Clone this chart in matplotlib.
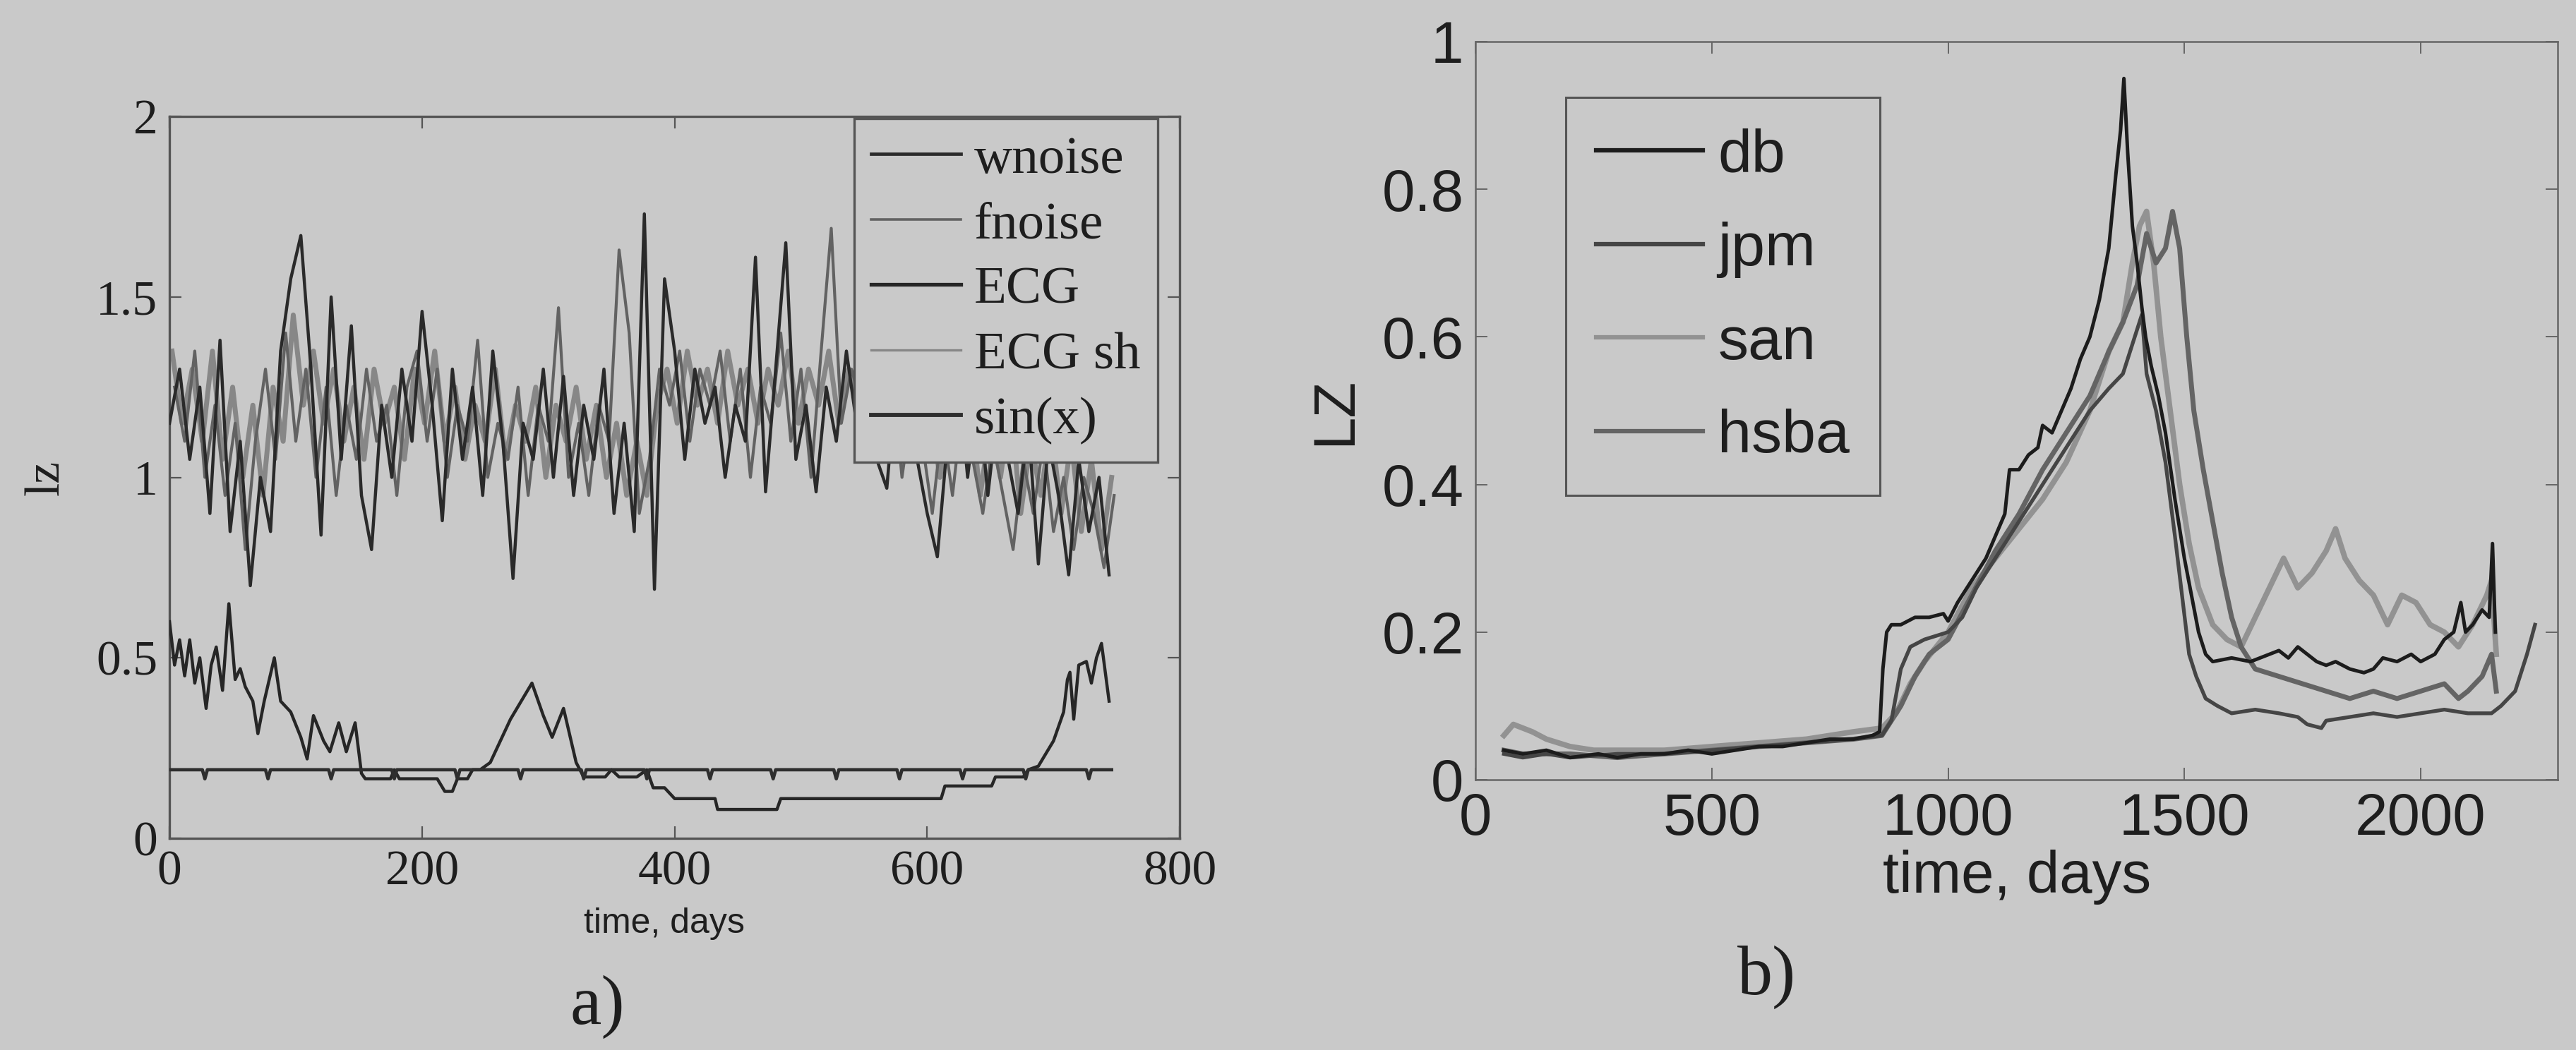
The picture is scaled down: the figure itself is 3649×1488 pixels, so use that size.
import numpy as np
import matplotlib
matplotlib.use("Agg")
import matplotlib.pyplot as plt
from matplotlib import font_manager

# ---------------- data: panel a) ----------------
legend_a = ["wnoise", "fnoise", "ECG", "ECG sh", "sin(x)"]

wnoise = [1.15, 1.30, 1.05, 1.25, 0.90, 1.38, 0.85, 1.10, 0.70, 1.00,
          0.85, 1.35, 1.55, 1.67, 1.30, 0.84, 1.50, 1.05, 1.42, 0.95,
          0.80, 1.20, 1.00, 1.30, 1.10, 1.46, 1.20, 0.88, 1.30, 1.05,
          1.25, 0.95, 1.35, 1.10, 0.72, 1.15, 1.05, 1.30, 1.00, 1.28,
          0.95, 1.20, 1.05, 1.30, 0.90, 1.15, 0.85, 1.73, 0.69, 1.55,
          1.35, 1.05, 1.30, 1.15, 1.25, 1.00, 1.20, 1.10, 1.61, 0.96,
          1.30, 1.65, 1.05, 1.20, 0.96, 1.25, 1.10, 1.35, 1.15, 1.40,
          1.05, 0.97, 1.30, 1.15, 1.05, 0.90, 0.78, 1.10, 1.30, 1.00,
          1.25, 0.95, 1.20, 1.05, 0.90, 1.15, 0.76, 1.10, 0.95, 0.73,
          1.05, 0.85, 1.00, 0.73]
wnoise_span = (0, 744)

fnoise = [1.25, 1.10, 1.35, 1.00, 1.20, 0.95, 1.15, 0.80, 1.10, 1.30,
          1.05, 1.40, 1.10, 1.30, 1.00, 1.25, 0.95, 1.20, 1.05, 1.30,
          1.10, 1.20, 0.95, 1.25, 1.35, 1.10, 1.30, 1.00, 1.20, 1.10,
          1.38, 1.00, 1.15, 1.05, 1.25, 0.95, 1.20, 1.10, 1.47, 1.00,
          1.15, 0.95, 1.20, 1.10, 1.63, 1.40, 0.90, 1.05, 1.30, 1.20,
          1.35, 1.10, 1.30, 1.20, 1.35, 1.10, 1.30, 1.00, 1.25, 1.15,
          1.40, 1.10, 1.30, 1.00, 1.35, 1.69, 1.15, 1.30, 1.20, 1.45,
          1.10, 1.30, 1.00, 1.20, 1.10, 0.90, 1.15, 0.95, 1.20, 1.05,
          0.90, 1.10, 0.95, 0.80, 1.05, 0.90, 1.10, 0.85, 1.00, 0.80,
          1.00, 0.90, 0.75, 0.95]
fnoise_span = (4, 748)

ecg_sh = [1.35, 1.15, 1.30, 1.10, 1.35, 1.05, 1.25, 1.00, 1.20, 0.95,
          1.25, 1.10, 1.45, 1.20, 1.35, 1.15, 1.30, 1.10, 1.25, 1.05,
          1.30, 1.15, 1.25, 1.05, 1.30, 1.15, 1.35, 1.10, 1.25, 1.05,
          1.20, 1.10, 1.30, 1.05, 1.20, 1.10, 1.25, 1.00, 1.20, 1.10,
          1.25, 1.05, 1.20, 1.00, 1.15, 0.95, 1.10, 0.95, 1.20, 1.30,
          1.15, 1.35, 1.20, 1.30, 1.15, 1.35, 1.20, 1.30, 1.15, 1.30,
          1.20, 1.35, 1.15, 1.30, 1.20, 1.35, 1.15, 1.30, 1.20, 1.35,
          1.15, 1.30, 1.10, 1.25, 1.05, 1.20, 1.00, 1.15, 1.05, 1.20,
          0.95, 1.15, 1.00, 1.20, 0.90, 1.10, 0.95, 1.15, 0.90, 1.10,
          0.85, 1.05, 0.80, 1.00]
ecg_sh_span = (2, 746)

ecg_days = [0, 4, 8, 12, 16, 20, 24, 29, 33, 37, 42, 47, 52, 56, 60, 66, 70, 75,
            83, 88, 96, 104, 109, 114, 122, 127, 134, 140, 147, 152, 155, 175,
            178, 182, 212, 218, 224, 228, 236, 240, 246, 254, 270, 287, 296,
            303, 312, 322, 328, 345, 350, 356, 370, 378, 383, 392, 400, 432,
            434, 481, 484, 611, 614, 651, 654, 676, 680, 688, 700, 708, 711,
            713, 716, 720, 726, 730, 734, 738, 744]
ecg_vals = [0.60, 0.48, 0.55, 0.45, 0.55, 0.43, 0.50, 0.36, 0.48, 0.53, 0.41,
            0.65, 0.44, 0.47, 0.42, 0.38, 0.29, 0.38, 0.50, 0.38, 0.35, 0.28,
            0.22, 0.34, 0.27, 0.24, 0.32, 0.24, 0.32, 0.18, 0.165, 0.165,
            0.19, 0.165, 0.165, 0.13, 0.13, 0.165, 0.165, 0.19, 0.19, 0.21,
            0.33, 0.43, 0.34, 0.28, 0.36, 0.21, 0.17, 0.17, 0.19, 0.17, 0.17,
            0.19, 0.14, 0.14, 0.11, 0.11, 0.08, 0.08, 0.11, 0.11, 0.145,
            0.145, 0.17, 0.17, 0.19, 0.20, 0.27, 0.35, 0.44, 0.46, 0.33, 0.48,
            0.49, 0.43, 0.50, 0.54, 0.38]

sin_days = [0, 26, 28, 30, 76, 78, 80, 126, 128, 130, 176, 178, 180, 226, 228,
            230, 276, 278, 280, 326, 328, 330, 376, 378, 380, 426, 428, 430,
            476, 478, 480, 526, 528, 530, 576, 578, 580, 626, 628, 630, 676,
            678, 680, 726, 728, 730, 746]
sin_vals = [0.19, 0.19, 0.165, 0.19, 0.19, 0.165, 0.19, 0.19, 0.165, 0.19,
            0.19, 0.165, 0.19, 0.19, 0.165, 0.19, 0.19, 0.165, 0.19, 0.19,
            0.165, 0.19, 0.19, 0.165, 0.19, 0.19, 0.165, 0.19, 0.19, 0.165,
            0.19, 0.19, 0.165, 0.19, 0.19, 0.165, 0.19, 0.19, 0.165, 0.19,
            0.19, 0.165, 0.19, 0.19, 0.165, 0.19, 0.19]

xticks_a = [0, 200, 400, 600, 800]
yticks_a = [0, 0.5, 1, 1.5, 2]
yticklabels_a = ["0", "0.5", "1", "1.5", "2"]

# ---------------- data: panel b) ----------------
legend_b = ["db", "jpm", "san", "hsba"]

db_days = [60, 100, 150, 200, 260, 300, 350, 400, 450, 500, 550, 600, 650, 700,
           750, 800, 840, 855, 862, 870, 880, 900, 930, 960, 990, 1000, 1020,
           1050, 1080, 1100, 1120, 1130, 1150, 1170, 1190, 1200, 1220, 1240,
           1260, 1280, 1300, 1320, 1340, 1355, 1365, 1372, 1380, 1390, 1400,
           1410, 1418, 1430, 1445, 1460, 1480, 1500, 1515, 1530, 1545, 1560,
           1600, 1640, 1680, 1700, 1720, 1740, 1760, 1780, 1800, 1820, 1850,
           1880, 1900, 1920, 1950, 1980, 2000, 2030, 2050, 2070, 2085, 2095,
           2110, 2130, 2145, 2152, 2158]
db_vals = [0.04, 0.035, 0.04, 0.03, 0.035, 0.03, 0.035, 0.035, 0.04, 0.035,
           0.04, 0.045, 0.045, 0.05, 0.055, 0.055, 0.06, 0.065, 0.15, 0.20,
           0.21, 0.21, 0.22, 0.22, 0.225, 0.215, 0.24, 0.27, 0.30, 0.33, 0.36,
           0.42, 0.42, 0.44, 0.45, 0.48, 0.47, 0.50, 0.53, 0.57, 0.60, 0.65,
           0.72, 0.82, 0.88, 0.95, 0.85, 0.75, 0.70, 0.64, 0.60, 0.56, 0.52,
           0.47, 0.38, 0.30, 0.25, 0.20, 0.17, 0.16, 0.165, 0.16, 0.17, 0.175,
           0.165, 0.18, 0.17, 0.16, 0.155, 0.16, 0.15, 0.145, 0.15, 0.165,
           0.16, 0.17, 0.16, 0.17, 0.19, 0.20, 0.24, 0.20, 0.21, 0.23, 0.22,
           0.32, 0.20]

jpm_days = [60, 100, 150, 200, 300, 400, 500, 600, 700, 800, 860, 880, 900,
            920, 950, 1000, 1030, 1060, 1100, 1150, 1200, 1250, 1300, 1340,
            1370, 1395, 1410, 1420, 1440, 1460, 1480, 1495, 1510, 1525, 1545,
            1570, 1600, 1650, 1700, 1740, 1760, 1790, 1800, 1850, 1900, 1950,
            2000, 2050, 2100, 2150, 2170, 2200, 2225, 2242]
jpm_vals = [0.035, 0.03, 0.035, 0.03, 0.035, 0.035, 0.04, 0.045, 0.05, 0.055,
            0.06, 0.08, 0.15, 0.18, 0.19, 0.20, 0.22, 0.26, 0.30, 0.35, 0.40,
            0.45, 0.50, 0.53, 0.55, 0.60, 0.63, 0.55, 0.50, 0.43, 0.33, 0.25,
            0.17, 0.14, 0.11, 0.10, 0.09, 0.095, 0.09, 0.085, 0.075, 0.07,
            0.08, 0.085, 0.09, 0.085, 0.09, 0.095, 0.09, 0.09, 0.10, 0.12,
            0.17, 0.21]

san_days = [60, 80, 100, 120, 150, 200, 250, 300, 400, 500, 600, 700, 800, 860,
            890, 920, 950, 1000, 1050, 1100, 1150, 1200, 1250, 1300, 1340,
            1370, 1390, 1405, 1420, 1435, 1450, 1470, 1490, 1510, 1530, 1560,
            1590, 1620, 1650, 1680, 1710, 1740, 1770, 1800, 1820, 1840, 1870,
            1900, 1930, 1960, 1990, 2020, 2050, 2080, 2110, 2140, 2150, 2160]
san_vals = [0.06, 0.075, 0.07, 0.065, 0.055, 0.045, 0.04, 0.04, 0.04, 0.045,
            0.05, 0.055, 0.065, 0.07, 0.09, 0.13, 0.16, 0.20, 0.26, 0.30, 0.34,
            0.38, 0.43, 0.50, 0.58, 0.62, 0.70, 0.75, 0.77, 0.70, 0.60, 0.50,
            0.40, 0.32, 0.26, 0.21, 0.19, 0.18, 0.22, 0.26, 0.30, 0.26, 0.28,
            0.31, 0.34, 0.30, 0.27, 0.25, 0.21, 0.25, 0.24, 0.21, 0.20, 0.18,
            0.21, 0.25, 0.27, 0.17]

hsba_days = [60, 100, 200, 300, 400, 500, 600, 700, 800, 860, 900, 930, 960,
             1000, 1050, 1100, 1150, 1200, 1250, 1300, 1340, 1370, 1400, 1420,
             1440, 1460, 1475, 1490, 1505, 1520, 1540, 1560, 1580, 1600, 1620,
             1650, 1700, 1750, 1800, 1850, 1900, 1950, 2000, 2050, 2080, 2100,
             2130, 2150, 2160]
hsba_vals = [0.04, 0.035, 0.035, 0.03, 0.035, 0.04, 0.045, 0.05, 0.055, 0.06,
             0.10, 0.14, 0.17, 0.19, 0.25, 0.31, 0.36, 0.42, 0.47, 0.52, 0.58,
             0.62, 0.67, 0.74, 0.70, 0.72, 0.77, 0.72, 0.60, 0.50, 0.42, 0.35,
             0.28, 0.22, 0.18, 0.15, 0.14, 0.13, 0.12, 0.11, 0.12, 0.11, 0.12,
             0.13, 0.11, 0.12, 0.14, 0.17, 0.12]

xticks_b = [0, 500, 1000, 1500, 2000]
yticks_b = [0, 0.2, 0.4, 0.6, 0.8, 1.0]
yticklabels_b = ["0", "0.2", "0.4", "0.6", "0.8", "1"]

# ---------------- style ----------------
BG = "#c9c9c9"
INK = "#1e1e1e"
FRAME = "#555555"

names = {f.name for f in font_manager.fontManager.ttflist}
NARROW = "Liberation Sans Narrow" if "Liberation Sans Narrow" in names else "Liberation Sans"
narrow_size = 42 if NARROW == "Liberation Sans Narrow" else 36
SERIF = ["Liberation Serif", "DejaVu Serif"]
SANS = ["Liberation Sans", "DejaVu Sans"]

fig = plt.figure(figsize=(36.49, 14.88), dpi=100, facecolor=BG)

# ---------------- panel a) ----------------
axa = fig.add_axes([0.0658, 0.2016, 0.3922, 0.6875])
axa.set_facecolor("none")


def grid_x(vals, span):
    return np.linspace(span[0], span[1], len(vals))


la = []
la.append(axa.plot(grid_x(wnoise, wnoise_span), wnoise, color="#2a2a2a", lw=3.2, zorder=4)[0])
la.append(axa.plot(grid_x(fnoise, fnoise_span), fnoise, color="#626262", lw=3.0, zorder=3)[0])
la.append(axa.plot(ecg_days, ecg_vals, color="#262626", lw=3.2, zorder=5)[0])
la.append(axa.plot(grid_x(ecg_sh, ecg_sh_span), ecg_sh, color="#878787", lw=5.0, zorder=2)[0])
la.append(axa.plot(sin_days, sin_vals, color="#2e2e2e", lw=3.4, zorder=5)[0])

axa.set_xlim(0, 800)
axa.set_ylim(0, 2)
axa.set_xticks(xticks_a)
axa.set_xticklabels([str(v) for v in xticks_a])
axa.set_yticks(yticks_a)
axa.set_yticklabels(yticklabels_a)
for lab in axa.get_xticklabels() + axa.get_yticklabels():
    lab.set_fontfamily(SERIF)
    lab.set_fontsize(50)
    lab.set_color(INK)
axa.tick_params(direction="in", top=True, right=True, length=12, width=1.6,
                color=FRAME, pad=12)
for s in axa.spines.values():
    s.set_color(FRAME)
    s.set_linewidth(2.4)

axa.set_xlabel("time, days", family=[NARROW, "DejaVu Sans"], fontsize=narrow_size, color=INK)
axa.xaxis.set_label_coords(0.49, -0.118)
axa.xaxis.label.set_verticalalignment("center")
axa.set_ylabel("lz", family=SERIF, fontsize=50, color=INK)
axa.yaxis.set_label_coords(-0.122, 0.5)
axa.yaxis.label.set_verticalalignment("center")

lega = axa.legend(la, legend_a, loc="upper right", bbox_to_anchor=(0.978, 0.997),
                  borderaxespad=0, prop={"family": SERIF, "size": 54},
                  handlelength=1.7, handletextpad=0.25, labelspacing=0.32,
                  borderpad=0.32, fancybox=False, framealpha=1, facecolor=BG,
                  edgecolor=FRAME)
lega.get_frame().set_linewidth(2.4)
for line, w in zip(lega.get_lines(), [3.4, 2.6, 3.8, 2.4, 4.2]):
    line.set_linewidth(w)
for t in lega.get_texts():
    t.set_color(INK)

# ---------------- panel b) ----------------
axb = fig.add_axes([0.5728, 0.2574, 0.4201, 0.7030])
axb.set_facecolor("none")

lb = []
lb.append(axb.plot(db_days, db_vals, color="#1c1c1c", lw=3.6, zorder=5)[0])
lb.append(axb.plot(jpm_days, jpm_vals, color="#454545", lw=3.8, zorder=4)[0])
lb.append(axb.plot(san_days, san_vals, color="#929292", lw=5.6, zorder=2)[0])
lb.append(axb.plot(hsba_days, hsba_vals, color="#646464", lw=5.0, zorder=3)[0])

axb.set_xlim(0, 2290)
axb.set_ylim(0, 1)
axb.set_xticks(xticks_b)
axb.set_xticklabels([str(v) for v in xticks_b])
axb.set_yticks(yticks_b)
axb.set_yticklabels(yticklabels_b)
for lab in axb.get_xticklabels() + axb.get_yticklabels():
    lab.set_fontfamily(SANS)
    lab.set_fontsize(60)
    lab.set_color(INK)
axb.tick_params(direction="in", top=True, right=True, length=12, width=1.4,
                color="#666666", pad=12)
for s in axb.spines.values():
    s.set_color("#666666")
    s.set_linewidth(1.8)

axb.set_xlabel("time, days", family=SANS, fontsize=60, color=INK)
axb.xaxis.set_label_coords(0.5, -0.132)
axb.xaxis.label.set_verticalalignment("center")
axb.set_ylabel("LZ", family=SANS, fontsize=60, color=INK)
axb.yaxis.set_label_coords(-0.130, 0.5)
axb.yaxis.label.set_verticalalignment("center")

legb = axb.legend(lb, legend_b, loc="upper left", bbox_to_anchor=(0.0835, 0.924),
                  borderaxespad=0, prop={"family": SANS, "size": 62},
                  handlelength=1.75, handletextpad=0.25, labelspacing=0.61,
                  borderpad=0.5, fancybox=False, framealpha=1, facecolor=BG,
                  edgecolor="#555555")
legb.get_frame().set_linewidth(2.2)
for line in legb.get_lines():
    line.set_linewidth(4.5)
for t in legb.get_texts():
    t.set_color(INK)

# panel captions
fig.text(0.2318, 0.041, "a)", family=SERIF, fontsize=72, color=INK,
         ha="center", va="center")
fig.text(0.6857, 0.0692, "b)", family=SERIF, fontsize=72, color=INK,
         ha="center", va="center")

fig.savefig("out.png", dpi=100, facecolor=BG)
